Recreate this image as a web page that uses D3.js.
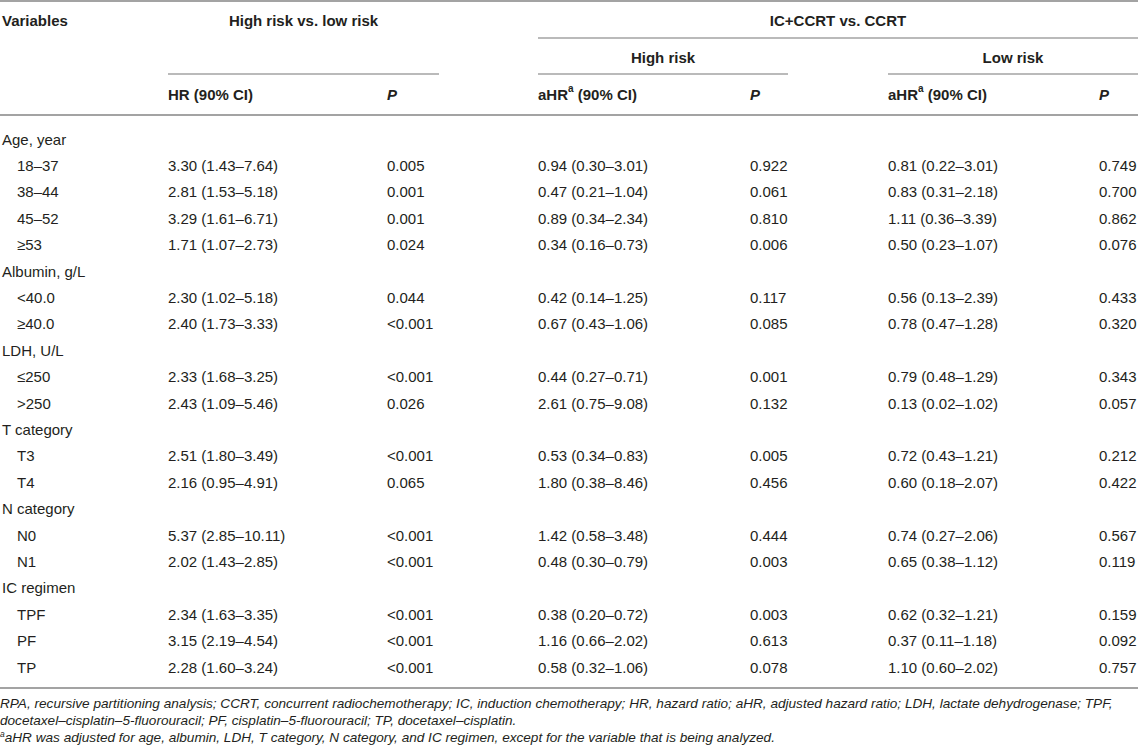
<!DOCTYPE html>
<html>
<head>
<meta charset="utf-8">
<script src="https://cdn.jsdelivr.net/npm/d3@7"></script>
<style>
  body { margin: 0; background: #fff; }
  text { font-family: "Liberation Sans", Arial, Helvetica, sans-serif; fill: #231f20; }
</style>
</head>
<body>
<div id="table-div"></div>
<script>
// Table layout constants
const WIDTH = 1138;
const HEIGHT = 753;
const FONT_SIZE = 15;
const LINE_COLOR = "#a3a3a3";

// Row labels, group header rows have no values
const variables = ["Age, year", "18–37", "38–44", "45–52", "≥53",
  "Albumin, g/L", "<40.0", "≥40.0",
  "LDH, U/L", "≤250", ">250",
  "T category", "T3", "T4",
  "N category", "N0", "N1",
  "IC regimen", "TPF", "PF", "TP"];
const isGroup = [1, 0, 0, 0, 0, 1, 0, 0, 1, 0, 0, 1, 0, 0, 1, 0, 0, 1, 0, 0, 0];

// High risk vs. low risk
const hrAll = ["", "3.30 (1.43–7.64)", "2.81 (1.53–5.18)", "3.29 (1.61–6.71)", "1.71 (1.07–2.73)",
  "", "2.30 (1.02–5.18)", "2.40 (1.73–3.33)",
  "", "2.33 (1.68–3.25)", "2.43 (1.09–5.46)",
  "", "2.51 (1.80–3.49)", "2.16 (0.95–4.91)",
  "", "5.37 (2.85–10.11)", "2.02 (1.43–2.85)",
  "", "2.34 (1.63–3.35)", "3.15 (2.19–4.54)", "2.28 (1.60–3.24)"];
const pAll = ["", "0.005", "0.001", "0.001", "0.024",
  "", "0.044", "<0.001",
  "", "<0.001", "0.026",
  "", "<0.001", "0.065",
  "", "<0.001", "<0.001",
  "", "<0.001", "<0.001", "<0.001"];

// IC+CCRT vs. CCRT, high risk
const aHRHigh = ["", "0.94 (0.30–3.01)", "0.47 (0.21–1.04)", "0.89 (0.34–2.34)", "0.34 (0.16–0.73)",
  "", "0.42 (0.14–1.25)", "0.67 (0.43–1.06)",
  "", "0.44 (0.27–0.71)", "2.61 (0.75–9.08)",
  "", "0.53 (0.34–0.83)", "1.80 (0.38–8.46)",
  "", "1.42 (0.58–3.48)", "0.48 (0.30–0.79)",
  "", "0.38 (0.20–0.72)", "1.16 (0.66–2.02)", "0.58 (0.32–1.06)"];
const pHigh = ["", "0.922", "0.061", "0.810", "0.006",
  "", "0.117", "0.085",
  "", "0.001", "0.132",
  "", "0.005", "0.456",
  "", "0.444", "0.003",
  "", "0.003", "0.613", "0.078"];

// IC+CCRT vs. CCRT, low risk
const aHRLow = ["", "0.81 (0.22–3.01)", "0.83 (0.31–2.18)", "1.11 (0.36–3.39)", "0.50 (0.23–1.07)",
  "", "0.56 (0.13–2.39)", "0.78 (0.47–1.28)",
  "", "0.79 (0.48–1.29)", "0.13 (0.02–1.02)",
  "", "0.72 (0.43–1.21)", "0.60 (0.18–2.07)",
  "", "0.74 (0.27–2.06)", "0.65 (0.38–1.12)",
  "", "0.62 (0.32–1.21)", "0.37 (0.11–1.18)", "1.10 (0.60–2.02)"];
const pLow = ["", "0.749", "0.700", "0.862", "0.076",
  "", "0.433", "0.320",
  "", "0.343", "0.057",
  "", "0.212", "0.422",
  "", "0.567", "0.119",
  "", "0.159", "0.092", "0.757"];

const columnKeys = ["var", "hr", "p", "ahrHigh", "pHigh", "ahrLow", "pLow"];
const columnData = [variables, hrAll, pAll, aHRHigh, pHigh, aHRLow, pLow];

const footnotes = [
  "RPA, recursive partitioning analysis; CCRT, concurrent radiochemotherapy; IC, induction chemotherapy; HR, hazard ratio; aHR, adjusted hazard ratio; LDH, lactate dehydrogenase; TPF,",
  "docetaxel–cisplatin–5-fluorouracil; PF, cisplatin–5-fluorouracil; TP, docetaxel–cisplatin.",
  "aHR was adjusted for age, albumin, LDH, T category, N category, and IC regimen, except for the variable that is being analyzed."
];

var svg = d3.select("#table-div")
  .append("svg")
  .attr("width", WIDTH)
  .attr("height", HEIGHT);

// column x positions
let xCol = d3.scaleOrdinal()
  .domain(columnKeys)
  .range([2, 168, 387, 538, 750, 888, 1099]);

// row y positions
let yRow = d3.scaleLinear()
  .domain([0, variables.length - 1])
  .range([139, 667]);

// horizontal rules
function rule(x1, x2, y, w) {
  svg.append("line")
    .attr("x1", x1).attr("x2", x2)
    .attr("y1", y).attr("y2", y)
    .attr("stroke", LINE_COLOR)
    .attr("stroke-width", w);
}
rule(0, WIDTH, 1, 2);
rule(538, WIDTH, 38, 1.5);
rule(168, 439, 74, 1.5);
rule(538, 788, 74, 1.5);
rule(888, WIDTH, 74, 1.5);
rule(0, WIDTH, 115, 2);
rule(0, WIDTH, 688, 2);

// header text
function header(x, y, str, anchor) {
  return svg.append("text")
    .attr("x", x).attr("y", y)
    .attr("dominant-baseline", "central")
    .attr("text-anchor", anchor || "start")
    .attr("font-size", FONT_SIZE)
    .attr("font-weight", "bold")
    .text(str);
}
header(xCol("var"), 20, "Variables");
header((168 + 439) / 2, 20, "High risk vs. low risk", "middle");
header((538 + WIDTH) / 2, 20, "IC+CCRT vs. CCRT", "middle");
header((538 + 788) / 2, 57, "High risk", "middle");
header((888 + WIDTH) / 2, 57, "Low risk", "middle");
header(xCol("hr"), 94, "HR (90% CI)");

["ahrHigh", "ahrLow"].forEach(function (k) {
  let t = header(xCol(k), 94, "aHR");
  t.append("tspan").attr("baseline-shift", "super").attr("font-size", 10).text("a");
  t.append("tspan").text(" (90% CI)");
});
["p", "pHigh", "pLow"].forEach(function (k) {
  header(xCol(k), 94, "P").attr("font-style", "italic");
});

// body cells
columnKeys.forEach(function (key, ci) {
  svg.append("g")
    .selectAll("text")
    .data(columnData[ci])
    .enter()
    .append("text")
    .attr("x", function (d, i) {
      return key === "var" && !isGroup[i] ? xCol(key) + 15 : xCol(key);
    })
    .attr("y", function (d, i) { return yRow(i); })
    .attr("dominant-baseline", "central")
    .attr("font-size", FONT_SIZE)
    .text(function (d) { return d; });
});

// footnotes
let yFoot = d3.scaleLinear().domain([0, 2]).range([703, 737]);
footnotes.forEach(function (str, i) {
  let t = svg.append("text")
    .attr("x", 0)
    .attr("y", yFoot(i))
    .attr("dominant-baseline", "central")
    .attr("font-size", 13.6)
    .attr("font-style", "italic");
  if (i === 2) {
    t.append("tspan").attr("baseline-shift", "3").attr("font-size", 8.5).text("a");
    t.append("tspan").attr("baseline-shift", "0").text(str);
  } else {
    t.text(str);
  }
});
</script>
</body>
</html>
